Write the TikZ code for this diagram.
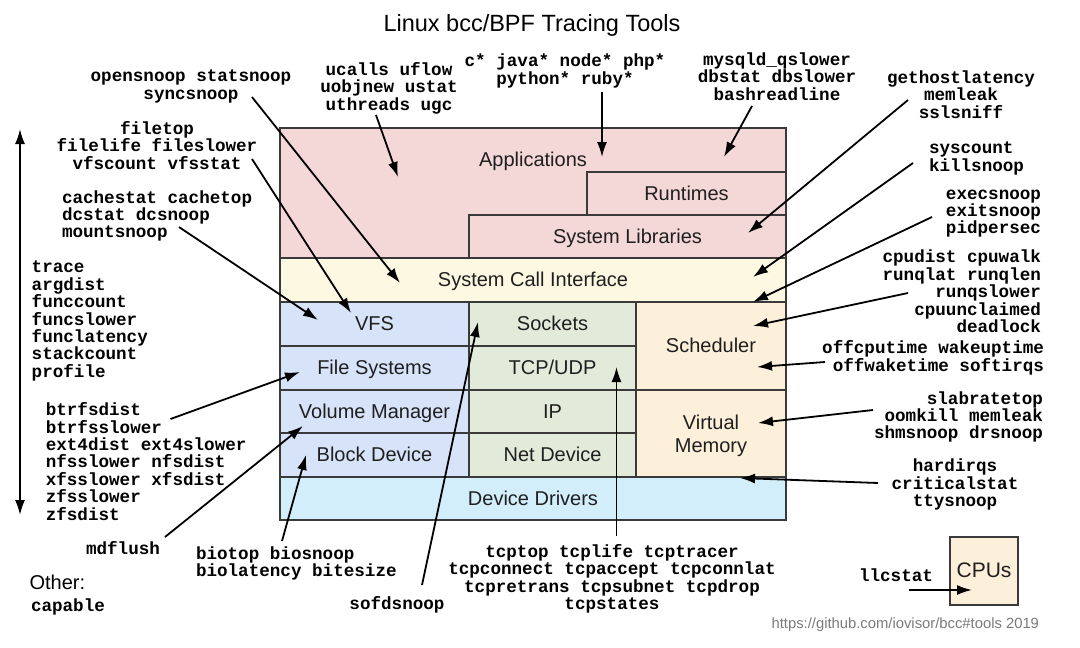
\documentclass[tikz,border=0pt]{standalone}
\usepackage{fontspec}
\setmainfont{Liberation Sans}
\setmonofont{Liberation Mono}
\usepackage{tikz}
\usetikzlibrary{positioning,arrows.meta}

\definecolor{appcol}{HTML}{F4D7D7}
\definecolor{syscol}{HTML}{FDF8E1}
\definecolor{fscol}{HTML}{D7E3F8}
\definecolor{netcol}{HTML}{E2EBD9}
\definecolor{cpucol}{HTML}{FCF0DA}
\definecolor{drvcol}{HTML}{D2EEFA}
\definecolor{edgecol}{HTML}{3A3A3A}
\definecolor{urlcol}{HTML}{7A7A7A}

\begin{document}
\begin{tikzpicture}[x=1pt, y=-1pt, every node/.style={inner sep=0pt, outer sep=0pt}]
  % Styles
  \tikzstyle{layer}=[rectangle, draw=edgecol, line width=1.3pt, anchor=north west, align=center, text=black!88, font=\fontsize{20}{23}\selectfont, text height=17.5pt, text depth=4.5pt]
  \tikzstyle{boxlabel}=[text=black!88, font=\fontsize{20}{23}\selectfont, align=center]
  \tikzstyle{tool}=[font=\fontsize{17.6}{17.4}\selectfont\ttfamily\bfseries, yshift=-2pt]
  \tikzstyle{hook}=[-{Latex[length=15pt,width=10pt]}, line width=1.8pt]

  \useasboundingbox (0,0) rectangle (1080,648);

  % Title
  \node[font=\fontsize{23.5}{27}\selectfont] (title) at (532,25) {Linux bcc/BPF Tracing Tools};

  % Software stack
  \node[layer, fill=appcol, minimum width=506, minimum height=130] (apps) at (280,128) {};
  \node[boxlabel, text height=17.5pt, text depth=4.5pt] (appslabel) at (533,160) {Applications};
  \node[layer, fill=appcol, minimum width=199, minimum height=43] (runtimes) at (587,172) {Runtimes};
  \node[layer, fill=appcol, minimum width=317, minimum height=43] (syslibs) at (469,215) {System Libraries};
  \node[layer, fill=syscol, minimum width=506, minimum height=44] (syscall) at (280,258) {System Call Interface};

  \node[layer, fill=fscol, minimum width=189, minimum height=44] (vfs) at (280,302) {VFS};
  \node[layer, fill=fscol, minimum width=189, minimum height=44] (fs) at (280,346) {File Systems};
  \node[layer, fill=fscol, minimum width=189, minimum height=43] (volmgr) at (280,390) {Volume Manager};
  \node[layer, fill=fscol, minimum width=189, minimum height=44] (blockdev) at (280,433) {Block Device};

  \node[layer, fill=netcol, minimum width=167, minimum height=44] (sockets) at (469,302) {Sockets};
  \node[layer, fill=netcol, minimum width=167, minimum height=44] (tcpudp) at (469,346) {TCP/UDP};
  \node[layer, fill=netcol, minimum width=167, minimum height=43] (ip) at (469,390) {IP};
  \node[layer, fill=netcol, minimum width=167, minimum height=44] (netdev) at (469,433) {Net Device};

  \node[layer, fill=cpucol, minimum width=150, minimum height=88] (sched) at (636,302) {Scheduler};
  \node[layer, fill=cpucol, minimum width=150, minimum height=87] (vm) at (636,390) {};
  \node[boxlabel] (vmlabel) at (711,435.5) {Virtual\\Memory};

  \node[layer, fill=drvcol, minimum width=506, minimum height=43] (drivers) at (280,477) {Device Drivers};

  \node[layer, fill=cpucol, minimum width=68, minimum height=68, font=\fontsize{21}{24}\selectfont] (cpus) at (950,537) {CPUs};

  % Tools, top
  \node[tool, align=center] (opensnoop) at (191,84.5) {opensnoop statsnoop\\syncsnoop};
  \node[tool, align=center] (ucalls) at (389,86) {ucalls uflow\\uobjnew ustat\\uthreads ugc};
  \node[tool, align=center] (langs) at (565,69) {c* java* node* php*\\python* ruby*};
  \node[tool, align=center] (mysqld) at (777,74.5) {mysqld\_qslower\\dbstat dbslower\\bashreadline};
  \node[tool, align=center] (gethost) at (961,92.5) {gethostlatency\\memleak\\sslsniff};

  % Tools, right
  \node[tool, align=left, anchor=west] (syscount) at (929,156.5) {syscount\\killsnoop};
  \node[tool, align=right, anchor=east] (execsnoop) at (1041,211.5) {execsnoop\\exitsnoop\\pidpersec};
  \node[tool, align=right, anchor=east] (cpudist) at (1041,289.5) {cpudist cpuwalk\\runqlat runqlen\\runqslower\\cpuunclaimed\\deadlock};
  \node[tool, align=right, anchor=east] (offcpu) at (1044,356) {offcputime wakeuptime\\offwaketime softirqs};
  \node[tool, align=right, anchor=east] (slabtop) at (1043,415) {slabratetop\\oomkill memleak\\shmsnoop drsnoop};
  \node[tool, align=center] (hardirqs) at (955,482.5) {hardirqs\\criticalstat\\ttysnoop};
  \node[tool] (llcstat) at (896,573) {llcstat};

  % Tools, bottom
  \node[tool, align=center] (tcptop) at (612,577) {tcptop tcplife tcptracer\\tcpconnect tcpaccept tcpconnlat\\tcpretrans tcpsubnet tcpdrop\\tcpstates};
  \node[tool] (sofdsnoop) at (397,603) {sofdsnoop};
  \node[tool, align=left, anchor=west] (biotop) at (196,561.5) {biotop biosnoop\\biolatency bitesize};
  \node[tool] (mdflush) at (123,546) {mdflush};

  % Tools, left
  \node[tool, align=center] (filetop) at (157,143.5) {filetop\\filelife fileslower\\vfscount vfsstat};
  \node[tool, align=left, anchor=west] (cachestat) at (62,214) {cachestat cachetop\\dcstat dcsnoop\\mountsnoop};
  \node[tool, align=left, anchor=west] (trace) at (31.7,319) {trace\\argdist\\funccount\\funcslower\\funclatency\\stackcount\\profile};
  \node[tool, align=left, anchor=west] (btrfs) at (45.8,459.5) {btrfsdist\\btrfsslower\\ext4dist ext4slower\\nfsslower nfsdist\\xfsslower xfsdist\\zfsslower\\zfsdist};

  % Other
  \node[anchor=west, font=\fontsize{20}{23}\selectfont] (other) at (29.6,582) {Other:};
  \node[tool, anchor=west] (capable) at (31,605) {capable};
  \node[anchor=east, text=urlcol, font=\fontsize{14.8}{17}\selectfont] (url) at (1039,625) {https://github.com/iovisor/bcc\#tools 2019};

  % Arrow ends
  \coordinate (opensnoop-s) at (252,97);  \coordinate (opensnoop-t) at (400,283);
  \coordinate (ucalls-s) at (376,115);    \coordinate (ucalls-t) at (398,177);
  \coordinate (langs-s) at (602,92);      \coordinate (langs-t) at (602,157);
  \coordinate (mysqld-s) at (752,106);    \coordinate (mysqld-t) at (724,157);
  \coordinate (gethost-s) at (908,100);   \coordinate (gethost-t) at (748,233);
  \coordinate (syscount-s) at (913,163);  \coordinate (syscount-t) at (753,277);
  \coordinate (execsnoop-s) at (932,217); \coordinate (execsnoop-t) at (753,302);
  \coordinate (cpudist-s) at (908,293);   \coordinate (cpudist-t) at (753,326);
  \coordinate (offcpu-s) at (825,362);    \coordinate (offcpu-t) at (757,367);
  \coordinate (slabtop-s) at (873,410);   \coordinate (slabtop-t) at (758,423);
  \coordinate (hardirqs-s) at (878,483);  \coordinate (hardirqs-t) at (740,478);
  \coordinate (llcstat-s) at (909,590);   \coordinate (llcstat-t) at (972,590);
  \coordinate (tcptop-s) at (616.5,536);  \coordinate (tcptop-t) at (616.5,367);
  \coordinate (sofdsnoop-s) at (422,585); \coordinate (sofdsnoop-t) at (478,322);
  \coordinate (filetop-s) at (252,159);   \coordinate (filetop-t) at (351,313);
  \coordinate (cachestat-s) at (179,227); \coordinate (cachestat-t) at (318,320);
  \coordinate (btrfs-s) at (170.5,419);   \coordinate (btrfs-t) at (300,372);
  \coordinate (mdflush-s) at (165,537);   \coordinate (mdflush-t) at (303,426);
  \coordinate (biotop-s) at (282,541);    \coordinate (biotop-t) at (306,455);
  \coordinate (axis-top) at (20,129);     \coordinate (axis-bottom) at (20,515);

  % Arrows
  \foreach \t in {opensnoop,ucalls,langs,mysqld,gethost,syscount,execsnoop,cpudist,offcpu,slabtop,hardirqs,llcstat,tcptop,sofdsnoop,filetop,cachestat,btrfs,mdflush,biotop}
    \draw[hook] (\t-s) -- (\t-t);
  \draw[{Latex[length=15pt,width=10pt]}-{Latex[length=15pt,width=10pt]}, line width=1.8pt] (axis-top) -- (axis-bottom);
\end{tikzpicture}
\end{document}
